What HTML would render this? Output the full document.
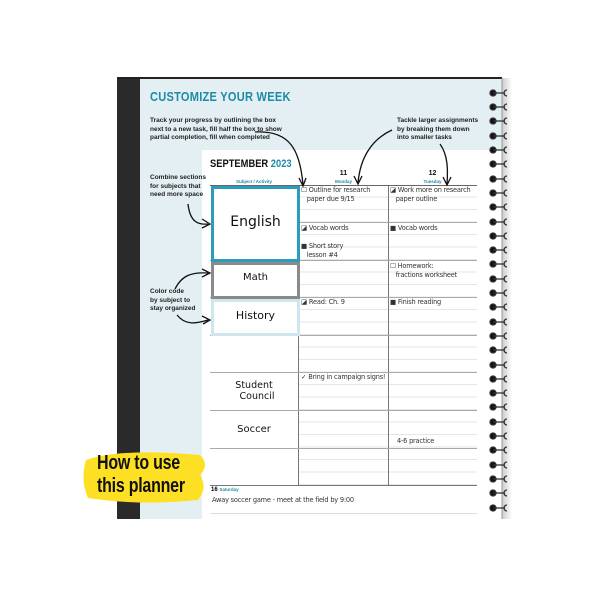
<!DOCTYPE html>
<html><head><meta charset="utf-8"><style>
body{margin:0;width:600px;height:600px;background:#fff;position:relative;overflow:hidden;font-family:"Liberation Sans",sans-serif}
.a{position:absolute}
.ann{position:absolute;font:bold 6.5px/8.5px "Liberation Sans",sans-serif;color:#222}
.hw{position:absolute;font:6.6px/9px "DejaVu Sans",sans-serif;color:#333;letter-spacing:-0.2px}
.big{position:absolute;font:13px "DejaVu Sans",sans-serif;color:#111;text-align:center}
.day{background:repeating-linear-gradient(to bottom,transparent 0,transparent 11.5px,#e6e6e6 11.5px,#e6e6e6 12.5px)}
</style></head><body>
<div class="a" style="left:117px;top:78px;width:23px;height:441px;background:#2a2a2a"></div>
<div class="a" style="left:140px;top:78px;width:362px;height:441px;background:#e3eff2"></div>
<div class="a" style="left:117px;top:77px;width:385px;height:2px;background:#222"></div>
<div class="a" style="left:502px;top:78px;width:10px;height:441px;background:linear-gradient(to right,#ccc,#fff)"></div>
<div class="a" style="left:202px;top:150px;width:300px;height:369px;background:#fff"></div>
<div class="a" style="left:150px;top:89px;font:bold 13px 'Liberation Sans',sans-serif;color:#1d8aa8;letter-spacing:0.3px;transform:scaleX(0.85);transform-origin:left">CUSTOMIZE YOUR WEEK</div>
<div class="ann" style="left:150px;top:117px">Track your progress by outlining the box<br>next to a new task, fill half the box to show<br>partial completion, fill when completed</div>
<div class="ann" style="left:397px;top:117px">Tackle larger assignments<br>by breaking them down<br>into smaller tasks</div>
<div class="ann" style="left:150px;top:174px">Combine sections<br>for subjects that<br>need more space</div>
<div class="ann" style="left:150px;top:288px">Color code<br>by subject to<br>stay organized</div>
<div class="a" style="left:210px;top:158px;font:bold 11px 'Liberation Sans',sans-serif;color:#111;transform:scaleX(0.85);transform-origin:left">SEPTEMBER <span style="color:#1d8aa8">2023</span></div>
<div class="a" style="left:210px;top:179px;width:88px;text-align:center;font:bold 4.5px sans-serif;color:#1d8aa8">Subject / Activity</div>
<div class="a" style="left:299px;top:170px;width:89px;text-align:center;font:bold 7px sans-serif;color:#111">11</div>
<div class="a" style="left:299px;top:179px;width:89px;text-align:center;font:bold 4.5px sans-serif;color:#1d8aa8">Monday</div>
<div class="a" style="left:388px;top:170px;width:89px;text-align:center;font:bold 7px sans-serif;color:#111">12</div>
<div class="a" style="left:388px;top:179px;width:89px;text-align:center;font:bold 4.5px sans-serif;color:#1d8aa8">Tuesday</div>
<div class="a day" style="left:299px;top:185px;width:178px;height:300px"></div>
<div class="a" style="left:298px;top:185px;width:1px;height:300px;background:#777"></div>
<div class="a" style="left:388px;top:185px;width:1px;height:300px;background:#777"></div>
<div class="a" style="left:210px;top:185px;width:267px;height:1px;background:#666"></div>
<div class="a" style="left:298px;top:222px;width:179px;height:1px;background:#aaa"></div>
<div class="a" style="left:210px;top:260px;width:267px;height:1px;background:#aaa"></div>
<div class="a" style="left:210px;top:297px;width:267px;height:1px;background:#aaa"></div>
<div class="a" style="left:210px;top:335px;width:267px;height:1px;background:#aaa"></div>
<div class="a" style="left:210px;top:372px;width:267px;height:1px;background:#aaa"></div>
<div class="a" style="left:210px;top:410px;width:267px;height:1px;background:#aaa"></div>
<div class="a" style="left:210px;top:448px;width:267px;height:1px;background:#aaa"></div>
<div class="a" style="left:210px;top:485px;width:267px;height:1px;background:#777"></div>
<div class="a" style="left:210px;top:513px;width:267px;height:1px;background:#ddd"></div>
<div class="a" style="left:211px;top:186px;width:83px;height:70px;border:3px solid #2b9cbc;background:#fff"></div>
<div class="a" style="left:211px;top:262px;width:83px;height:31px;border:3px solid #8a8a8a;background:#fff"></div>
<div class="a" style="left:211px;top:299px;width:83px;height:31px;border:3px solid #cfe6ef;background:#fff"></div>
<div class="big" style="left:211px;top:214px;width:89px;font-size:14px">English</div>
<div class="big" style="left:211px;top:272px;width:89px;font-size:10px">Math</div>
<div class="big" style="left:211px;top:309px;width:89px;font-size:11px">History</div>
<div class="big" style="left:210px;top:380px;width:88px;font-size:9.5px;line-height:11px">Student<br>&nbsp;&nbsp;Council</div>
<div class="big" style="left:210px;top:424px;width:88px;font-size:10px">Soccer</div>
<div class="hw" style="left:301px;top:186px">☐ Outline for research<br>&nbsp;&nbsp;&nbsp;paper due 9/15</div>
<div class="hw" style="left:301px;top:224px">◪ Vocab words</div>
<div class="hw" style="left:301px;top:242px">■ Short story<br>&nbsp;&nbsp;&nbsp;lesson #4</div>
<div class="hw" style="left:301px;top:298px">◪ Read: Ch. 9</div>
<div class="hw" style="left:301px;top:373px">✓ Bring in campaign signs!</div>
<div class="hw" style="left:390px;top:186px">◪ Work more on research<br>&nbsp;&nbsp;&nbsp;paper outline</div>
<div class="hw" style="left:390px;top:224px">■ Vocab words</div>
<div class="hw" style="left:390px;top:262px">☐ Homework:<br>&nbsp;&nbsp;&nbsp;fractions worksheet</div>
<div class="hw" style="left:390px;top:298px">■ Finish reading</div>
<div class="hw" style="left:397px;top:437px">4-6 practice</div>
<div class="a" style="left:211px;top:487px;font:bold 6px sans-serif">16 <span style="color:#1d8aa8;font-size:4.5px">Saturday</span></div>
<div class="hw" style="left:212px;top:496px">Away soccer game - meet at the field by 9:00</div>
<svg class="a" style="left:0;top:0" width="600" height="600">
<g fill="none" stroke="#111" stroke-width="1.3">
<path d="M255 132 C290 130 300 150 303 185"/><path d="M299 178 L303 186 L306 178"/>
<path d="M392 130 C370 140 360 160 358 183"/><path d="M354 176 L358 184 L362 176"/>
<path d="M440 144 C448 155 448 170 447 184"/><path d="M443 177 L447 185 L451 177"/>
<path d="M188 204 C190 222 198 225 208 224"/><path d="M202 219 L210 224 L202 228"/>
<path d="M175 289 C182 275 192 272 208 273"/><path d="M202 269 L210 273 L202 277"/>
<path d="M177 315 C185 325 195 324 208 320"/><path d="M202 316 L210 320 L203 324"/>
</g>
<path d="M86 460 Q120 448 200 455 Q210 465 200 475 Q208 488 198 500 Q140 506 88 498 Q80 480 86 460Z" fill="#fde024"/>
<line x1="502" y1="78" x2="502" y2="519" stroke="#999" stroke-width="1"/>
<g id="sp" stroke="#333" stroke-width="1.3" fill="#111">
<g><circle cx="493" cy="93" r="3"/><line x1="493" y1="93" x2="505" y2="93"/><path d="M507 90 A3 3 0 0 0 507 96" fill="none"/></g>
</g>
</svg>
<svg class="a" style="left:0;top:0" width="600" height="600">
<defs><g id="r" stroke="#333" stroke-width="1.3" fill="#111"><circle cx="493" cy="0" r="3"/><line x1="493" y1="0" x2="505" y2="0"/><path d="M507 -3 A3 3 0 0 0 507 3" fill="none"/></g></defs>
<use href="#r" y="107"/><use href="#r" y="121"/><use href="#r" y="136"/><use href="#r" y="150"/><use href="#r" y="164"/><use href="#r" y="179"/><use href="#r" y="193"/><use href="#r" y="207"/><use href="#r" y="222"/><use href="#r" y="236"/><use href="#r" y="250"/><use href="#r" y="264"/><use href="#r" y="279"/><use href="#r" y="293"/><use href="#r" y="307"/><use href="#r" y="322"/><use href="#r" y="336"/><use href="#r" y="350"/><use href="#r" y="365"/><use href="#r" y="379"/><use href="#r" y="393"/><use href="#r" y="407"/><use href="#r" y="422"/><use href="#r" y="436"/><use href="#r" y="450"/><use href="#r" y="465"/><use href="#r" y="479"/><use href="#r" y="493"/><use href="#r" y="508"/>
</svg>
<div class="a" style="left:97px;top:452px;font:bold 20px/23px 'Liberation Sans',sans-serif;color:#111;transform:scaleX(0.8);transform-origin:left;letter-spacing:-0.3px">How to use<br>this planner</div>
</body></html>
